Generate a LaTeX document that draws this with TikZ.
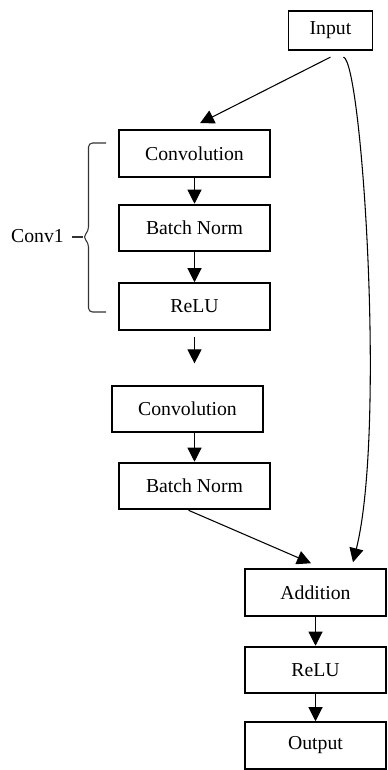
\documentclass[tikz,border=0pt]{standalone}
\usepackage{fontspec}
\setmainfont{Liberation Serif}
\usetikzlibrary{arrows.meta}

\begin{document}
\begin{tikzpicture}[
  x=0.75pt,y=-0.75pt,
  box/.style={draw,line width=1.4pt,minimum width=113pt,minimum height=35pt,inner sep=0pt,font=\fontsize{14.8}{17}\selectfont},
  wide/.style={box,minimum width=105.5pt},
  >={Triangle[length=10.5pt,width=10.5pt]},
  conn/.style={->,line width=0.8pt}
]
\useasboundingbox (0,0) rectangle (387,770);
% --- residual branch ---
\node[box,minimum width=63pt,minimum height=29.5pt] (inp) at (330.5,30.5) {Input};
\node[box] (conv1) at (194.5,153.5) {Convolution};
\node[box] (bn1) at (194.5,228) {Batch Norm};
\node[box] (relu1) at (194.5,306.5) {ReLU};
\node[box] (conv2) at (187.5,409) {Convolution};
\node[box] (bn2) at (194.5,486) {Batch Norm};
% --- merge ---
\node[wide] (add) at (315.5,592.5) {Addition};
\node[wide] (relu2) at (315.5,670) {ReLU};
\node[wide] (out) at (315.5,745.5) {Output};
% connectors
\draw[conn] ([shift={(0,6)}]inp.south) -- ([shift={(5.5,-6)}]conv1.north);
\draw[conn] (conv1) -- (bn1);
\draw[conn] (bn1) -- (relu1);
\draw[conn,shorten <=4.5pt,shorten >=16pt] (relu1) -- (relu1 |- conv2.north);
\draw[conn] (conv2.south -| bn2.north) -- (bn2.north);
\draw[conn] ([shift={(-6,0)}]bn2.south) -- ([shift={(-4.5,-5)}]add.north);
\draw[conn] (add) -- (relu2);
\draw[conn] (relu2) -- (out);
% skip connection
\draw[conn] ([shift={(13,6)}]inp.south) .. controls (362,62) and (386,430) .. ([shift={(37.5,-6)}]add.north);
% brace
\node[font=\fontsize{14.8}{17}\selectfont] (lbl) at (37.5,236) {Conv1};
\draw[black!80,line width=0.8pt,rounded corners=3pt]
  (106,143) -- (88.5,143) -- (88.5,231) -- (83,237) -- (88.5,243) -- (88.5,312) -- (106,312);
\draw[black!80,line width=0.8pt] (83,237) -- (72,237);
\end{tikzpicture}
\end{document}
